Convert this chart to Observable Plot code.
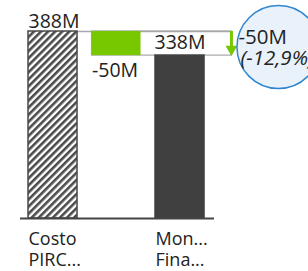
<!DOCTYPE html>
<html><head><meta charset="utf-8">
<script src="https://cdn.jsdelivr.net/npm/d3@7"></script>
<script src="https://cdn.jsdelivr.net/npm/@observablehq/plot@0.6"></script>
<style>
html,body{margin:0;padding:0;background:#fff;overflow:hidden;}
#chart svg{display:block;overflow:hidden;}
</style>
</head><body><div id="chart"></div>
<script>
// ---- data ----
const categories = ["Costo\nPIRC...", "Mon...\nFina..."];
const values = [388, 338];
const valueLabels = ["388M", "338M"];
const deltaValues = [-50];
const deltaLabels = ["-50M"];
const deltaPctLabels = ["(-12,9%)"];

// ---- layout (scale units) ----
const hw = 0.386;           // half bar width
const posPY = 0, posDelta = 1, posAC = 2, posArrow = 2.81, posBubble = 3.55;

const PY = values[0], AC = values[1];
const bars = [
  {x: posPY, v: PY, label: valueLabels[0], cat: categories[0], fill: "url(#hatch)", stroke: "#4a4a4a"},
  {x: posAC, v: AC, label: valueLabels[1], cat: categories[1], fill: "#404040", stroke: "#404040"}
];
const delta = [{x: posDelta, y1: PY + deltaValues[0], y2: PY, label: deltaLabels[0]}];

const font = "'Segoe UI','Open Sans',sans-serif";
const green = "#78c800";
const vfs = 19.5;

const plot = Plot.plot({
  width: 308, height: 271,
  marginLeft: 20, marginRight: 94, marginTop: 31, marginBottom: 53,
  x: {type: "linear", domain: [-0.512, 2.543], axis: null},
  y: {domain: [0, 388], axis: null},
  style: {fontFamily: font, background: "#fff"},
  marks: [
    // variance box (green bar to arrow)
    Plot.rect(delta, {x1: d => d.x - hw, x2: () => posArrow, y1: "y1", y2: "y2", fill: "#fff", stroke: "#a8a8a8", strokeWidth: 1.2}),
    // connector from PY top
    Plot.ruleY([PY], {x1: posPY + hw, x2: posArrow, stroke: "#a8a8a8", strokeWidth: 1.5}),
    // green delta bar
    Plot.rect(delta, {x1: d => d.x - hw, x2: d => d.x + hw, y1: "y1", y2: "y2", fill: green}),
    // main bars
    Plot.rect(bars, {x1: d => d.x - hw, x2: d => d.x + hw, y1: 0, y2: "v", fill: "fill", stroke: "stroke", strokeWidth: 1.5}),
    // axis baseline
    Plot.ruleY([0], {stroke: "#444", strokeWidth: 2}),
    // arrow shaft + head
    Plot.ruleX([posArrow], {y1: PY, y2: AC + 8, stroke: green, strokeWidth: 3}),
    Plot.dot([posArrow], {x: d => d, y: AC, symbol: "triangle", r: 4.4, rotate: 180, fill: green, stroke: "none", dy: -6.5}),
    // bubble
    Plot.dot([posBubble], {x: d => d, y: (PY + AC) / 2, r: 41.5, fill: "#e9f2fb", stroke: "#2f86d0", strokeWidth: 1.5, dy: 3.5}),
    Plot.text(deltaLabels, {x: posBubble, y: (PY + AC) / 2, text: d => d, textAnchor: "start", dx: -40, dy: -6, fontSize: 20.5, fill: "#222"}),
    Plot.text(deltaPctLabels, {x: posBubble, y: (PY + AC) / 2, text: d => d, textAnchor: "start", dx: -38, dy: 15, fontSize: 20.5, fontStyle: "italic", fill: "#222"}),
    // value labels
    Plot.text(bars.slice(0, 1), {x: d => d.x - hw, y: "v", text: "label", textAnchor: "start", lineAnchor: "bottom", dy: -4, fontSize: vfs, fill: "#222"}),
    Plot.text(bars.slice(1), {x: d => d.x - hw, y: (PY + AC) / 2, text: "label", textAnchor: "start", dx: -1, dy: -1, fontSize: vfs, fill: "#222"}),
    Plot.text(delta, {x: d => d.x - hw, y: "y1", text: "label", textAnchor: "start", lineAnchor: "top", dy: 8, fontSize: vfs, fill: "#222"}),
    // category labels
    Plot.text(bars, {x: d => d.x - hw, y: 0, text: "cat", textAnchor: "start", lineAnchor: "top", dy: 11, fontSize: 18, lineHeight: 1.2, fill: "#222"})
  ]
});

// hatch pattern
const defs = d3.select(plot).insert("defs", ":first-child");
const pat = defs.append("pattern").attr("id", "hatch").attr("patternUnits", "userSpaceOnUse")
  .attr("width", 5).attr("height", 5).attr("patternTransform", "rotate(45)");
pat.append("rect").attr("width", 5).attr("height", 5).attr("fill", "#fff");
pat.append("rect").attr("width", 2.6).attr("height", 5).attr("fill", "#4a4a4a");

document.getElementById("chart").appendChild(plot);
</script>
</body></html>
